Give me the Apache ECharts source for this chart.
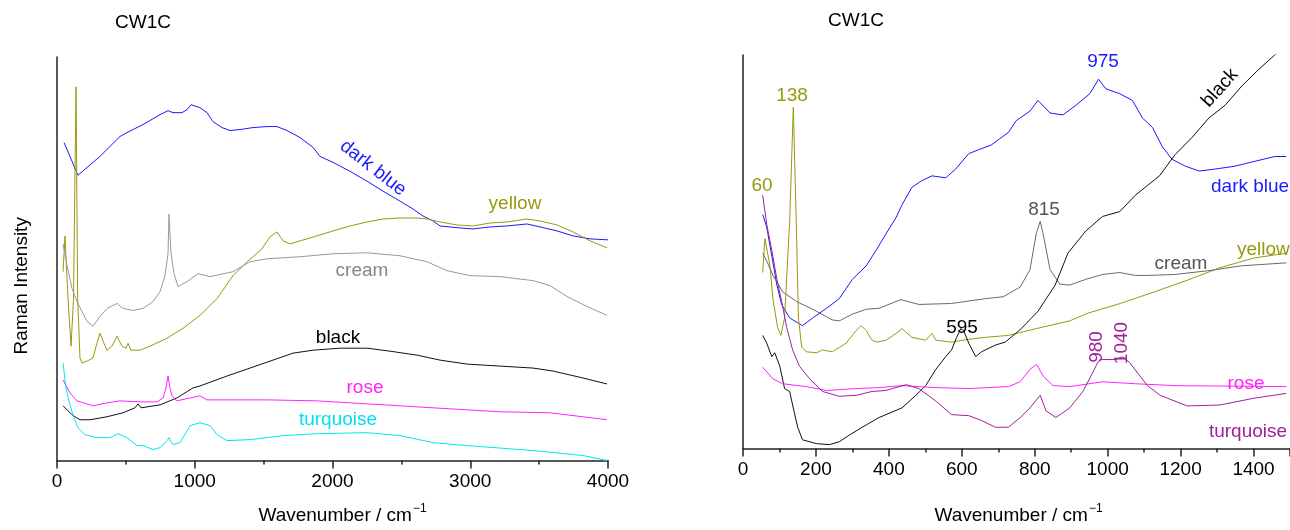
<!DOCTYPE html>
<html>
<head>
<meta charset="utf-8">
<title>CW1C Raman spectra</title>
<script src="https://cdn.jsdelivr.net/npm/echarts@6/dist/echarts.min.js"></script>
<style>
  html, body { margin: 0; background: #fff; }
  #chart { width: 1290px; height: 530px; }
</style>
</head>
<body>
<div id="chart"></div>
<script>
// [wavenumber / cm-1, intensity a.u.]

// left panel, 0 - 4000 cm-1
var fullDarkBlue = [[51,320],[152,287],[312,306],[457,326],[508,330],[624,338],[748,348],[806,352],[842,350],[907,350],[944,353],[973,358],[1038,355],[1089,350],[1132,341],[1198,335],[1256,332],[1329,333],[1423,335],[1525,336],[1597,336],[1670,332],[1764,325],[1859,315],[1909,306],[2004,300],[2127,291],[2251,281],[2367,271],[2490,261],[2585,253],[2657,246],[2730,241],[2781,236],[2926,234],[3020,233],[3144,235],[3267,236],[3412,238],[3507,235],[3630,231],[3746,226],[3870,223],[4000,222]];
var fullYellow = [[44,190],[58,226],[80,163],[102,115],[120,163],[138,376],[150,163],[167,103],[182,98],[218,100],[261,103],[290,118],[312,128],[341,118],[363,111],[399,115],[436,125],[472,115],[501,113],[515,118],[537,111],[603,111],[675,115],[799,123],[915,133],[1038,146],[1162,163],[1278,186],[1379,200],[1423,205],[1488,213],[1546,225],[1597,230],[1641,221],[1692,218],[1764,221],[1888,226],[2004,231],[2127,236],[2251,240],[2367,243],[2490,244],[2614,244],[2686,243],[2781,240],[2904,237],[3020,236],[3144,239],[3267,240],[3412,243],[3507,241],[3630,237],[3746,230],[3870,221],[3993,214]];
var fullCream = [[44,218],[73,196],[109,173],[145,160],[218,140],[261,135],[312,145],[363,153],[436,158],[479,153],[552,151],[624,153],[697,160],[748,170],[784,186],[806,208],[813,248],[828,208],[850,188],[878,175],[944,180],[1024,188],[1111,185],[1278,190],[1401,200],[1525,203],[1764,205],[2004,208],[2251,209],[2490,206],[2686,200],[2831,191],[2998,186],[3216,185],[3456,181],[3579,176],[3703,165],[3848,155],[3993,146]];
var fullBlack = [[44,55],[109,46],[167,41],[240,41],[363,44],[479,48],[566,53],[588,57],[610,53],[748,56],[871,63],[987,73],[1038,75],[1234,85],[1401,93],[1568,101],[1713,108],[1859,111],[2055,113],[2251,113],[2418,110],[2614,106],[2781,101],[2977,97],[3216,95],[3456,93],[3601,90],[3819,83],[3993,77]];
var fullRose = [[44,81],[94,68],[145,60],[261,55],[363,58],[457,60],[603,59],[726,59],[770,63],[791,73],[806,85],[820,73],[835,65],[871,60],[966,63],[1038,65],[1089,61],[1278,61],[1525,61],[1888,60],[2251,57],[2730,53],[3216,49],[3579,48],[3993,41]];
var fullTurquoise = [[44,98],[65,73],[94,56],[123,43],[152,33],[203,26],[290,23],[385,23],[443,27],[508,23],[581,15],[624,15],[697,11],[748,13],[799,20],[813,23],[828,19],[842,16],[893,18],[966,35],[1038,38],[1111,35],[1162,26],[1234,20],[1401,21],[1641,25],[1888,27],[2251,28],[2490,25],[2730,18],[2977,15],[3456,10],[3819,5],[3993,0]];

// right panel, 0 - 1500 cm-1
var lowDarkBlue = [[54,242],[65,229],[79,199],[93,169],[106,149],[128,135],[150,130],[163,127],[191,135],[229,145],[264,155],[300,175],[338,189],[365,205],[392,222],[420,239],[436,252],[463,270],[490,277],[518,282],[556,280],[583,289],[619,305],[646,309],[681,314],[728,327],[749,339],[787,349],[809,360],[842,347],[877,345],[913,355],[951,367],[975,382],[995,372],[1033,367],[1068,360],[1095,342],[1123,332],[1150,312],[1177,299],[1213,292],[1251,287],[1294,289],[1349,292],[1403,297],[1458,302],[1490,302]];
var lowYellow = [[54,182],[60,217],[74,189],[82,155],[95,125],[104,117],[114,135],[128,235],[138,353],[146,235],[152,135],[161,105],[174,100],[202,99],[218,102],[245,100],[283,109],[310,122],[324,127],[338,122],[354,112],[368,110],[392,112],[420,119],[436,124],[463,115],[501,112],[518,119],[529,112],[572,110],[619,113],[665,115],[728,117],[804,124],[896,132],[946,140],[1035,150],[1128,162],[1218,174],[1308,187],[1401,197],[1490,202]];
var lowCream = [[54,202],[65,194],[82,179],[109,162],[147,152],[191,144],[245,133],[264,132],[300,139],[338,144],[373,145],[433,154],[482,149],[572,150],[665,155],[714,157],[760,167],[787,185],[804,222],[815,235],[823,222],[842,185],[869,170],[896,169],[940,175],[986,180],[1033,182],[1076,179],[1109,179],[1185,180],[1278,184],[1368,189],[1490,192]];
var lowBlack = [[54,117],[65,109],[79,95],[87,99],[101,85],[114,62],[128,59],[136,45],[150,22],[163,9],[202,5],[237,4],[264,7],[292,14],[327,22],[373,32],[392,35],[436,42],[474,55],[501,65],[529,82],[556,95],[572,102],[586,115],[597,124],[605,122],[619,109],[638,95],[654,100],[692,107],[719,110],[763,124],[809,142],[856,169],[891,202],[940,225],[986,240],[1033,245],[1076,262],[1109,272],[1142,282],[1185,304],[1232,322],[1278,342],[1322,355],[1368,375],[1414,392],[1458,407],[1470,410]];
var lowRose = [[54,84],[82,72],[109,67],[174,64],[229,60],[311,62],[373,63],[436,65],[529,63],[619,62],[728,64],[760,69],[787,82],[805,87],[823,75],[850,65],[896,64],[986,69],[1076,67],[1185,65],[1490,64]];
var lowTurquoise = [[54,262],[65,232],[79,205],[93,175],[106,152],[120,125],[136,102],[155,85],[183,72],[218,59],[264,54],[311,55],[354,59],[392,60],[447,66],[482,62],[529,49],[572,35],[619,34],[654,29],[692,22],[728,22],[760,32],[787,42],[815,55],[831,39],[858,32],[896,42],[932,59],[954,75],[973,89],[980,92],[1022,92],[1041,95],[1060,89],[1109,65],[1144,55],[1218,44],[1308,45],[1401,52],[1490,57]];

(function () {
  var chart = echarts.init(document.getElementById('chart'))
  var font = '"Liberation Sans", Arial, sans-serif'

  var BLUE = '#1a1aff', OLIVE = '#999910', ROSE = '#ff22ff'

  function line(data, color, idx) {
    return {
      type: 'line',
      xAxisIndex: idx,
      yAxisIndex: idx,
      data: data,
      showSymbol: false,
      symbol: 'none',
      silent: true,
      lineStyle: { color: color, width: 1 },
      itemStyle: { color: color }
    }
  }

  function tag(text, x, y, color, rot, align) {
    return {
      type: 'text',
      x: x,
      y: y,
      rotation: (rot || 0) * Math.PI / 180,
      silent: true,
      style: {
        text: text,
        fill: color,
        font: '19px ' + font,
        align: align || 'center',
        verticalAlign: 'middle'
      }
    }
  }

  function xAxis(idx, max, interval, gap, shift) {
    return {
      type: 'value',
      gridIndex: idx,
      min: 0,
      max: max,
      interval: interval,
      name: 'Wavenumber / cm{sup|\u22121}',
      nameLocation: 'middle',
      nameGap: gap,
      nameTextStyle: {
        fontFamily: font, fontSize: 19, color: '#000',
        padding: [0, 0, 0, shift],
        rich: { sup: { fontFamily: font, fontSize: 12, color: '#000', padding: [0, 0, 14, 1] } }
      },
      axisLine: { lineStyle: { color: '#222', width: 1.5 } },
      axisTick: { length: 8, lineStyle: { color: '#222', width: 1.5 } },
      minorTick: { show: true, splitNumber: 2, length: 4, lineStyle: { color: '#222', width: 1.5 } },
      splitLine: { show: false },
      axisLabel: {
        fontFamily: font, fontSize: 19, color: '#000', margin: 12,
        showMaxLabel: max === 4000,
        formatter: function (v) { return String(v) }
      }
    }
  }

  function yAxis(idx, max, withName) {
    return {
      type: 'value',
      gridIndex: idx,
      min: 0,
      max: max,
      name: withName ? 'Raman Intensity' : '',
      nameLocation: 'middle',
      nameGap: 26,
      nameTextStyle: { fontFamily: font, fontSize: 19, color: '#000', padding: [0, 54, 0, 0] },
      axisLine: { show: true, lineStyle: { color: '#222', width: 1.5 } },
      axisTick: { show: false },
      axisLabel: { show: false },
      splitLine: { show: false }
    }
  }

  var option = {
    animation: false,
    backgroundColor: '#fff',
    title: [
      { text: 'CW1C', left: 143, top: 13, textAlign: 'center', padding: 0,
        textStyle: { fontFamily: font, fontSize: 19, fontWeight: 'normal', color: '#000' } },
      { text: 'CW1C', left: 856, top: 11, textAlign: 'center', padding: 0,
        textStyle: { fontFamily: font, fontSize: 19, fontWeight: 'normal', color: '#000' } }
    ],
    grid: [
      { left: 57, top: 57, width: 551, height: 406 },
      { left: 743, top: 55, width: 550.5, height: 407 }
    ],
    xAxis: [xAxis(0, 4000, 1000, 42, 20), xAxis(1, 1500, 200, 54, 4)],
    yAxis: [yAxis(0, 406, true), yAxis(1, 407, false)],
    series: [
      line(fullDarkBlue, BLUE, 0),
      line(fullYellow, OLIVE, 0),
      line(fullCream, '#9a9a9a', 0),
      line(fullBlack, '#111', 0),
      line(fullRose, ROSE, 0),
      line(fullTurquoise, '#00e5f0', 0),
      line(lowDarkBlue, BLUE, 1),
      line(lowYellow, OLIVE, 1),
      line(lowCream, '#6a6a6a', 1),
      line(lowBlack, '#111', 1),
      line(lowRose, ROSE, 1),
      line(lowTurquoise, '#a0209a', 1)
    ],
    graphic: [
      tag('dark blue', 373, 168, BLUE, -38),
      tag('yellow', 515, 204, OLIVE),
      tag('cream', 362, 271, '#858585'),
      tag('black', 338, 338, '#000'),
      tag('rose', 365, 388, ROSE),
      tag('turquoise', 338, 420, '#00e0f0'),
      tag('60', 762, 186, OLIVE),
      tag('138', 792, 96, OLIVE),
      tag('975', 1103, 62, BLUE),
      tag('black', 1220, 88, '#000', 48),
      tag('dark blue', 1211, 187, BLUE, 0, 'left'),
      tag('815', 1044, 210, '#555'),
      tag('yellow', 1237, 250, OLIVE, 0, 'left'),
      tag('cream', 1181, 264, '#555'),
      tag('595', 962, 328, '#000'),
      tag('980', 1097, 347, '#a0209a', 90),
      tag('1040', 1122, 343, '#a0209a', 90),
      tag('rose', 1246, 384, ROSE),
      tag('turquoise', 1248, 432, '#a0209a')
    ]
  }
  chart.setOption(option)
})()
</script>
</body>
</html>
